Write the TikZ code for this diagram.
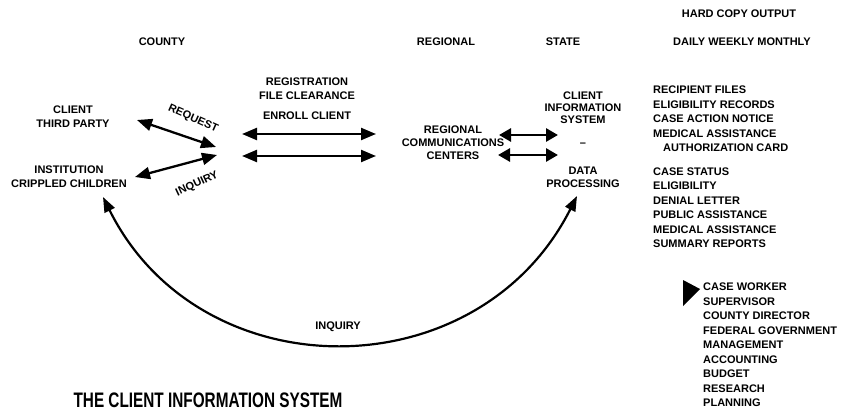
\documentclass[tikz,border=0pt]{standalone}
\usepackage{fontspec}
\setmainfont{Liberation Sans}
\usepackage{graphicx}
\usetikzlibrary{arrows.meta}
\begin{document}
\begin{tikzpicture}[x=1pt,y=1pt,
  lbl/.style={font=\fontsize{11}{14}\selectfont\bfseries, inner sep=0pt, align=center},
  listitem/.style={font=\fontsize{11}{14.5}\selectfont\bfseries, inner sep=0pt, align=left, anchor=west},
  dblarrow/.style={line width=2.3pt, {Triangle[length=15pt,width=12pt]}-{Triangle[length=15pt,width=12pt]}},
  shortarrow/.style={line width=2.8pt, {Triangle[length=12pt,width=13pt]}-{Triangle[length=12pt,width=13pt]}},
  looparrow/.style={line width=2.2pt, {Triangle[length=15pt,width=11pt]}-{Triangle[length=15pt,width=11pt]}}]
\useasboundingbox (0,0) rectangle (851,-417);

% column headings
\node[lbl] (hardcopy) at (739,-14) {HARD COPY OUTPUT};
\node[lbl] (freq) at (742,-42) {DAILY WEEKLY MONTHLY};
\node[lbl] (county) at (162,-42) {COUNTY};
\node[lbl] (regional) at (446,-42) {REGIONAL};
\node[lbl] (state) at (563,-42) {STATE};

% county sources
\node[lbl] (client) at (73,-117) {CLIENT\\THIRD PARTY};
\node[lbl] (instit) at (69,-177) {INSTITUTION\\CRIPPLED CHILDREN};
\node[lbl, rotate=-24] (request) at (193,-119) {REQUEST};
\node[lbl, rotate=25] (inquiry) at (197,-184) {INQUIRY};

% county transactions
\node[lbl] (regfile) at (307,-89) {REGISTRATION\\FILE CLEARANCE};
\node[lbl] (enroll) at (307,-116) {ENROLL CLIENT};

% regional and state
\node[lbl, font=\fontsize{11}{13}\selectfont\bfseries] (rcc) at (453,-143) {REGIONAL\\COMMUNICATIONS\\CENTERS};
\node[lbl, font=\fontsize{11}{12}\selectfont\bfseries] (cis) at (583,-108) {CLIENT\\INFORMATION\\SYSTEM};
\node[lbl] (dash) at (583,-145) {--};
\node[lbl, font=\fontsize{11}{13}\selectfont\bfseries] (dp) at (583,-177) {DATA\\PROCESSING};

% arrow end points
\coordinate (cl-e) at (137,-120);
\coordinate (in-e) at (135,-177);
\coordinate (hub1) at (216,-147);
\coordinate (hub2) at (217,-155);
\coordinate (h1w) at (242,-134);
\coordinate (h1e) at (376,-134);
\coordinate (h2w) at (242,-156);
\coordinate (h2e) at (376,-156);
\coordinate (s1w) at (499,-135);
\coordinate (s1e) at (558,-135);
\coordinate (s2w) at (498,-155);
\coordinate (s2e) at (558,-155);
\coordinate (loopL) at (103,-197);
\coordinate (loopR) at (577,-196);

\draw[dblarrow] (cl-e) -- (hub1);
\draw[dblarrow] (in-e) -- (hub2);
\draw[dblarrow] (h1w) -- (h1e);
\draw[dblarrow] (h2w) -- (h2e);
\draw[shortarrow] (s1w) -- (s1e);
\draw[shortarrow] (s2w) -- (s2e);
\draw[looparrow] (loopL) .. controls (200,-392) and (478,-392) .. (loopR);
\node[lbl] (loopinq) at (338,-327) {INQUIRY};

% hard copy output lists
\node[listitem] (out1) at (653,-90) {RECIPIENT FILES};
\node[listitem] (out2) at (653,-105) {ELIGIBILITY RECORDS};
\node[listitem] (out3) at (653,-119) {CASE ACTION NOTICE};
\node[listitem] (out4) at (653,-134) {MEDICAL ASSISTANCE};
\node[listitem] (out5) at (663,-148) {AUTHORIZATION CARD};

\node[listitem] (st1) at (653,-172) {CASE STATUS};
\node[listitem] (st2) at (653,-186) {ELIGIBILITY};
\node[listitem] (st3) at (653,-201) {DENIAL LETTER};
\node[listitem] (st4) at (653,-215) {PUBLIC ASSISTANCE};
\node[listitem] (st5) at (653,-230) {MEDICAL ASSISTANCE};
\node[listitem] (st6) at (653,-244) {SUMMARY REPORTS};

\node[listitem] (rc1) at (703,-287) {CASE WORKER};
\node[listitem] (rc2) at (703,-301.5) {SUPERVISOR};
\node[listitem] (rc3) at (703,-316) {COUNTY DIRECTOR};
\node[listitem] (rc4) at (703,-330.5) {FEDERAL GOVERNMENT};
\node[listitem] (rc5) at (703,-345) {MANAGEMENT};
\node[listitem] (rc6) at (703,-359.5) {ACCOUNTING};
\node[listitem] (rc7) at (703,-374) {BUDGET};
\node[listitem] (rc8) at (703,-388.5) {RESEARCH};
\node[listitem] (rc9) at (703,-403) {PLANNING};

% pointer to the recipients
\fill (683,-280) -- (700,-289) -- (683,-306) -- cycle;

% title
\node[inner sep=0pt] (title) at (208,-400)
  {\scalebox{0.73}[1]{\fontsize{21}{24}\selectfont\bfseries THE CLIENT INFORMATION SYSTEM}};
\end{tikzpicture}
\end{document}
